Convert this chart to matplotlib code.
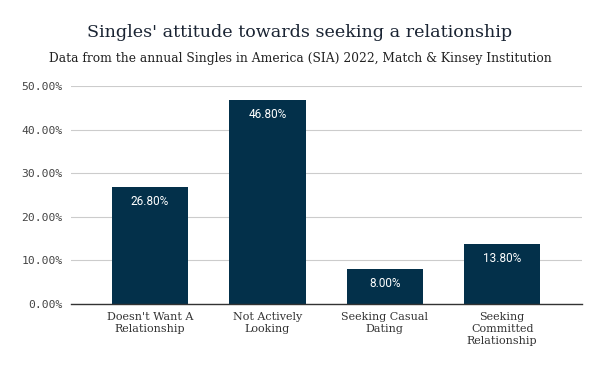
import matplotlib
matplotlib.use('Agg')
from matplotlib import pyplot as plt
from matplotlib.ticker import FuncFormatter

categories = ["Doesn't Want A\nRelationship", 'Not Actively\nLooking',
              'Seeking Casual\nDating', 'Seeking\nCommitted\nRelationship']
values = [26.8, 46.8, 8.0, 13.8]
yticks = [0, 10, 20, 30, 40, 50]

bar_color = '#03304a'
serif = ['DejaVu Serif']

fig = plt.figure(figsize=(6, 3.71), dpi=100)
ax = fig.add_axes([0.118, 0.181, 0.852, 0.587])

x = range(len(values))
bars = ax.bar(x, values, width=0.65, color=bar_color, zorder=3)
for b, v in zip(bars, values):
    ax.text(b.get_x() + b.get_width() / 2, v - 1.8, f'{v:.2f}%', ha='center', va='top',
            color='white', fontsize=8.5, family=['Roboto', 'DejaVu Sans'], zorder=4)

ax.set_xlim(-0.675, 3.68)
ax.set_ylim(0, 50)
ax.set_yticks(yticks)
ax.yaxis.set_major_formatter(FuncFormatter(lambda v, p: f'{v:.2f}%'))
ax.grid(axis='y', color='#cccccc', linewidth=0.8, zorder=0)
ax.set_xticks(list(x))
ax.set_xticklabels(categories, family=serif, fontsize=8, color='#333333', linespacing=1.25)
for lab in ax.get_yticklabels():
    lab.set_family(['DejaVu Sans Mono'])
    lab.set_fontsize(8.2)
    lab.set_color('#444444')
ax.tick_params(axis='both', length=0, pad=6)
ax.tick_params(axis='x', pad=6)
for s in ['top', 'right', 'left']:
    ax.spines[s].set_visible(False)
ax.spines['bottom'].set_color('#333333')
ax.spines['bottom'].set_linewidth(1)
ax.spines['bottom'].set_zorder(5)

fig.text(0.5, 0.912, "Singles' attitude towards seeking a relationship", ha='center', va='center',
         family=serif, fontsize=12.6, color='#1a2433')
fig.text(0.5, 0.843, 'Data from the annual Singles in America (SIA) 2022, Match & Kinsey Institution',
         ha='center', va='center', family=serif, fontsize=8.8, color='#222222')

fig.savefig('out.png', dpi=100)
